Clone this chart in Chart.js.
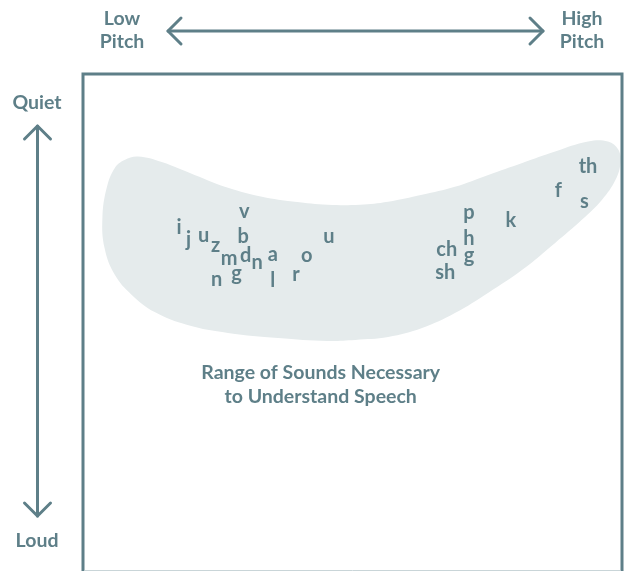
<!DOCTYPE html>
<html>
<head>
<meta charset="utf-8">
<script src="https://cdn.jsdelivr.net/npm/chart.js@4"></script>
<style>
  html, body { margin: 0; padding: 0; background: #ffffff; }
  #wrap { width: 626px; height: 571px; }
</style>
</head>
<body>
<div id="wrap"><canvas id="c" width="626" height="571"></canvas></div>
<script>
// ---- Data (pitch: 0 = low .. 100 = high; level: 0 = quiet .. 100 = loud) ----
const letterLabels = ['i','j','u','z','v','b','m','d','n','a','o','u','n','g','l','r','ch','sh','p','h','g','k','f','th','s'];
const letterPitch  = [17.8,19.6,22.4,24.6,29.9,29.7,27.1,30.2,32.3,35.2,41.5,45.6,24.8,28.5,35.2,39.5,67.5,67.2,71.6,71.6,71.6,79.4,88.2,93.7,93.0];
const letterLevel  = [30.5,33.4,32.6,34.8,27.9,32.4,37.4,36.2,38.2,36.6,36.8,32.8,41.6,40.8,41.2,40.6,35.0,39.6,28.5,32.8,37.2,29.1,23.3,18.3,25.9];

// Outline of the speech range region
const blobPitch = [50.5,45.4,36.2,26.9,19.4,13.3,9.0,5.9,4.0,3.6,4.4,5.9,7.7,10.2,14.6,20.7,26.9,33.2,39.3,45.4,51.4,56.6,62.9,69.0,75.2,81.5,87.6,93.7,97.4,99.3,99.7,98.8,96.3,92.6,87.6,81.5,75.2,69.0,62.9,56.6,50.5];
const blobLevel = [53.5,53.7,53.1,52.1,50.5,47.9,44.4,40.4,35.0,28.9,22.9,18.9,17.3,16.6,17.7,20.3,22.9,24.7,25.7,26.3,26.3,25.7,24.3,22.7,20.3,17.9,15.6,13.6,13.6,15.2,17.9,21.3,25.3,29.3,34.0,39.4,44.0,48.1,51.1,52.9,53.5];

const captionLines = ['Range of Sounds Necessary', 'to Understand Speech'];
const captionPitch = 44.1;
const captionLevel = [60.1, 65.0];

const pitchLow  = ['Low', 'Pitch'];
const pitchHigh = ['High', 'Pitch'];
const levelQuiet = 'Quiet';
const levelLoud  = 'Loud';

// ---- Styles ----
const INK = '#5e7f88';
const BLOB = '#e5ebec';
const FONT = 'Lato, "DejaVu Sans", sans-serif';

const blobData = blobPitch.map((x, i) => ({ x: x, y: blobLevel[i] }));
const letterData = letterPitch.map((x, i) => ({ x: x, y: letterLevel[i] }));

function drawInkCentered(ctx, text, x, y) {
  const m = ctx.measureText(text);
  const asc = m.actualBoundingBoxAscent, desc = m.actualBoundingBoxDescent;
  ctx.fillText(text, x, y + (asc - desc) / 2);
}

function arrowHead(ctx, tx, ty, ax, ay, bx, by) {
  ctx.beginPath();
  ctx.moveTo(ax, ay);
  ctx.lineTo(tx, ty);
  ctx.lineTo(bx, by);
  ctx.stroke();
}

const decorPlugin = {
  id: 'decor',
  afterDatasetsDraw(chart) {
    const ctx = chart.ctx;
    const xs = chart.scales.x, ys = chart.scales.y;

    // letters
    const meta = chart.getDatasetMeta(1);
    ctx.save();
    ctx.fillStyle = INK;
    ctx.font = '700 20px ' + FONT;
    ctx.textAlign = 'center';
    ctx.textBaseline = 'alphabetic';
    meta.data.forEach((pt, i) => {
      drawInkCentered(ctx, letterLabels[i], pt.x, pt.y);
    });

    // caption
    ctx.font = '700 19.5px ' + FONT;
    ctx.textBaseline = 'middle';
    captionLines.forEach((t, i) => {
      ctx.fillText(t, xs.getPixelForValue(captionPitch), ys.getPixelForValue(captionLevel[i]));
    });
    ctx.restore();
  },
  afterDraw(chart) {
    const ctx = chart.ctx;
    const a = chart.chartArea;
    ctx.save();
    // frame (bottom edge falls at the edge of the picture)
    ctx.strokeStyle = INK;
    ctx.lineWidth = 3;
    ctx.beginPath();
    ctx.moveTo(a.left, a.bottom + 2);
    ctx.lineTo(a.left, a.top);
    ctx.lineTo(a.right, a.top);
    ctx.lineTo(a.right, a.bottom + 2);
    ctx.stroke();
    ctx.strokeStyle = '#c9d5d8';
    ctx.lineWidth = 1;
    ctx.beginPath();
    ctx.moveTo(a.left + 1.5, a.bottom - 0.5);
    ctx.lineTo(a.right - 1.5, a.bottom - 0.5);
    ctx.stroke();

    // axis labels outside the frame
    ctx.fillStyle = INK;
    ctx.font = '700 19.5px ' + FONT;
    ctx.textAlign = 'center';
    ctx.textBaseline = 'middle';
    ctx.fillText(pitchLow[0], 122, 19);
    ctx.fillText(pitchLow[1], 122, 42);
    ctx.fillText(pitchHigh[0], 582, 19);
    ctx.fillText(pitchHigh[1], 582, 42);
    ctx.fillText(levelQuiet, 37, 103);
    ctx.fillText(levelLoud, 37, 541);

    // arrows
    ctx.strokeStyle = INK;
    ctx.lineWidth = 3;
    ctx.lineCap = 'round';
    ctx.lineJoin = 'round';
    ctx.beginPath();
    ctx.moveTo(168, 31); ctx.lineTo(543, 31);
    ctx.stroke();
    arrowHead(ctx, 168, 31, 181, 18, 181, 44);
    arrowHead(ctx, 543, 31, 530, 18, 530, 44);

    ctx.beginPath();
    ctx.moveTo(37.5, 126); ctx.lineTo(37.5, 516);
    ctx.stroke();
    arrowHead(ctx, 37.5, 126, 24.5, 139, 50.5, 139);
    arrowHead(ctx, 37.5, 516, 24.5, 503, 50.5, 503);
    ctx.restore();
  }
};

new Chart(document.getElementById('c'), {
  type: 'scatter',
  data: {
    datasets: [
      {
        type: 'line',
        data: blobData,
        fill: 'shape',
        backgroundColor: BLOB,
        borderColor: BLOB,
        borderWidth: 0,
        pointRadius: 0,
        tension: 0.4,
        order: 2
      },
      {
        type: 'scatter',
        data: letterData,
        pointRadius: 0,
        pointHoverRadius: 0,
        order: 1
      }
    ]
  },
  options: {
    responsive: false,
    animation: false,
    devicePixelRatio: 1,
    layout: { padding: { left: 83, top: 74, right: 4, bottom: 0 } },
    scales: {
      x: { type: 'linear', min: 0, max: 100, display: false },
      y: { type: 'linear', min: 0, max: 100, reverse: true, display: false }
    },
    plugins: {
      legend: { display: false },
      tooltip: { enabled: false }
    },
    events: []
  },
  plugins: [decorPlugin]
});
</script>
</body>
</html>
